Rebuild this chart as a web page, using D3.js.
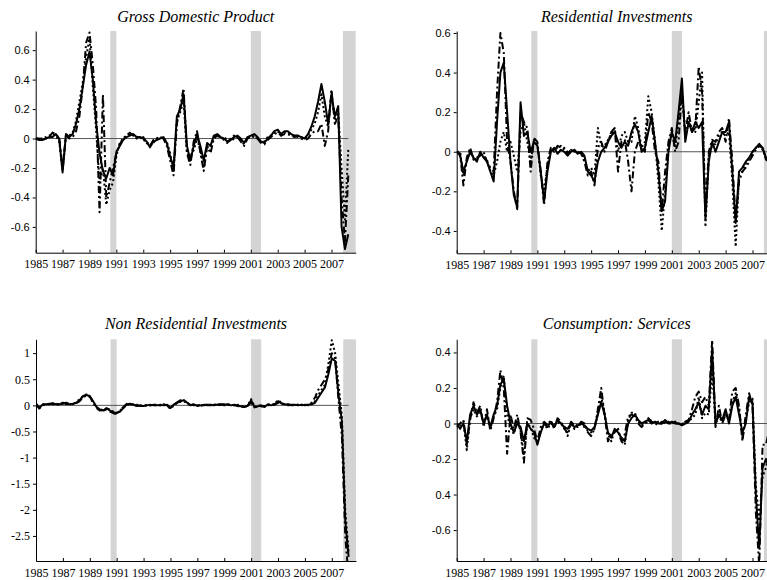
<!DOCTYPE html>
<meta charset="utf-8">
<style>
body { margin: 0; background: #fff; }
.title { font-family: "Liberation Serif", "DejaVu Serif", serif; font-style: italic; font-size: 16px; text-anchor: middle; }
.xaxis text { font-family: "Liberation Serif", serif; font-size: 12px; fill: #000; }
.yaxis text { fill: #000; }
.series { fill: none; stroke: #000; stroke-width: 2px; stroke-linejoin: round; }
</style>
<body>
<script src="https://d3js.org/d3.v7.min.js"></script>
<script>

// quarterly observations, first one is 1985 Q1
var firstYear = 1985;
var xTickYears = [1985, 1987, 1989, 1991, 1993, 1995, 1997, 1999, 2001, 2003, 2005, 2007];
var recessions = [[1990.55, 1991.0], [2001.0, 2001.75], [2007.85, 2008.8]];

// Gross Domestic Product
var gdpSolid = [
  0, -0.01, -0.01, 0,   0.01, 0.01, 0.03, 0,   -0.23, 0.03, 0.01, 0.03,   0.1, 0.2, 0.35, 0.5,
  0.59, 0.4, 0.1, -0.1,   -0.22, -0.27, -0.2, -0.25,   -0.09, -0.05, -0.01, 0.01,   0.02, 0.03, 0.01, 0.01,
  0, -0.02, -0.06, -0.02,   -0.01, 0, 0.01, -0.03,   -0.12, -0.2, 0.15, 0.2,   0.3, -0.05, -0.15, -0.05,
  0.03, -0.05, -0.15, -0.03,   -0.05, 0.02, 0.03, 0.01,   0, -0.02, -0.01, 0.01,   0.02, 0, -0.03, 0.01,
  0.02, 0.03, 0.01, -0.02,   -0.03, 0, 0.02, 0.05,   0.06, 0.03, 0.05, 0.05,   0.03, 0.02, 0.02, 0.01,
  0, 0.03, 0.08, 0.15,   0.25, 0.37, 0.25, 0.1,   0.3, 0.15, 0.22, -0.6,   -0.75, -0.65];
var gdpDashDot = [
  0, 0, -0.01, 0,   0.01, 0.04, 0.03, 0,   -0.2, 0.02, 0, 0.01,   0.05, 0.15, 0.35, 0.65,
  0.72, 0.5, 0.2, -0.5,   0.3, -0.4, -0.3, -0.2,   -0.1, -0.04, 0, 0.02,   0.04, 0.02, 0.01, 0,
  0.01, -0.03, -0.05, -0.01,   0, 0.01, 0, -0.05,   -0.15, -0.25, 0.1, 0.22,   0.34, -0.1, -0.18, -0.02,
  0.05, -0.1, -0.22, -0.05,   -0.1, 0, 0.02, 0.01,   -0.01, -0.03, 0, 0.02,   0.01, -0.02, -0.05, 0,
  0.02, 0.01, 0, -0.03,   -0.04, -0.01, 0.01, 0.03,   0.04, 0.02, 0.03, 0.03,   0.02, 0.01, 0.02, 0,
  -0.01, 0, 0.03, 0.05,   0.05, 0.1, -0.05, 0.05,   0.33, 0.1, 0.15, -0.4,   -0.7, -0.25];
var gdpDotted = [
  0, 0, 0, 0.01,   0.02, 0.03, 0.02, -0.02,   -0.22, 0.02, 0.02, 0.04,   0.12, 0.25, 0.38, 0.55,
  0.68, 0.35, 0.05, -0.3,   -0.2, -0.45, -0.35, -0.3,   -0.12, -0.03, 0, 0.02,   0.03, 0.02, 0, 0.01,
  -0.01, -0.02, -0.05, -0.03,   0, 0.01, 0, -0.02,   -0.1, -0.22, 0.12, 0.18,   0.25, -0.1, -0.12, -0.08,
  0, -0.08, -0.2, -0.06,   -0.06, 0.01, 0.02, 0,   0.01, -0.01, -0.02, 0,   0.01, -0.01, -0.04, 0,
  0.01, 0.02, 0, -0.02,   -0.02, 0.01, 0.02, 0.04,   0.05, 0.02, 0.04, 0.04,   0.02, 0.02, 0.01, 0.01,
  0, 0.02, 0.06, 0.1,   0.18, 0.3, 0.15, 0.08,   0.32, 0.12, 0.18, -0.2,   -0.55, -0.07];

// Residential Investments
var resSolid = [
  0, -0.02, -0.1, -0.05,   0, -0.03, -0.05, 0,   -0.03, -0.05, -0.1, -0.15,   0.15, 0.4, 0.45, 0.2,
  -0.05, -0.22, -0.28, 0.25,   0.08, 0.1, 0, 0.05,   0.03, -0.1, -0.25, -0.1,   0, 0.02, -0.01, 0.01,
  0, -0.02, 0, 0.01,   -0.01, 0, -0.02, -0.1,   -0.12, -0.15, -0.05, 0,   0.02, 0.05, 0.08, 0.1,
  0.05, 0.02, 0.05, 0.03,   0.1, 0.14, 0.1, 0,   0.02, 0.1, 0.18, 0.05,   -0.1, -0.3, -0.25, 0,
  0.1, 0.05, 0.2, 0.37,   0.05, 0.15, 0.1, 0.15,   0.12, 0.15, -0.34, -0.05,   0.05, 0, 0.05, 0.1,
  0.1, 0.15, -0.1, -0.36,   -0.1, -0.08, -0.05, -0.03,   0, 0.02, 0.04, 0.02,   -0.03, -0.04];
var resDashDot = [
  0, -0.01, -0.17, -0.03,   0.02, -0.04, -0.03, -0.02,   0, -0.05, -0.08, -0.1,   0.3, 0.6, 0.5, 0.05,
  -0.05, -0.2, -0.29, 0.2,   0.15, 0.12, -0.1, 0.07,   0.05, -0.1, -0.27, -0.05,   0.02, 0, 0.03, 0.02,
  0.02, -0.01, 0.01, 0,   0, -0.01, -0.05, -0.12,   -0.1, -0.17, 0.02, 0.05,   0, 0.05, 0.1, 0.12,
  -0.1, 0.05, 0.06, -0.05,   -0.2, 0, 0.05, 0.02,   0, 0.2, 0.15, 0,   -0.05, -0.3, -0.1, 0.05,
  0.12, 0, 0.05, 0.3,   0.1, 0.2, 0.1, 0.12,   0.43, 0.3, -0.3, 0,   0.06, 0.05, 0.1, 0.12,
  0.05, 0.17, -0.05, -0.35,   -0.15, -0.1, -0.08, -0.05,   -0.02, 0.01, 0.03, 0.02,   -0.04, -0.05];
var resDotted = [
  0, 0, -0.12, -0.05,   0.01, -0.03, -0.04, -0.01,   -0.02, -0.04, -0.1, -0.12,   -0.05, 0.05, 0.1, 0,
  0.05, -0.02, -0.1, 0.1,   0.15, 0.05, -0.05, 0.06,   0.04, -0.12, -0.2, -0.07,   0.01, 0.01, 0.02, 0.03,
  0.01, 0, 0.01, 0,   0, -0.01, -0.03, -0.1,   -0.08, -0.12, 0.12, 0.03,   0.03, 0.06, 0.09, 0.12,
  0, 0.08, 0.1, 0.05,   0.05, 0.18, 0.12, 0.02,   0.05, 0.28, 0.2, 0.05,   -0.15, -0.4, -0.2, 0.03,
  0.1, 0.02, 0.15, 0.3,   0.08, 0.15, 0.12, 0.1,   0.25, 0.4, -0.38, -0.02,   0.03, 0.04, 0.08, 0.1,
  0.08, 0.1, -0.15, -0.48,   -0.12, -0.1, -0.06, -0.04,   0, 0.02, 0.03, 0.01,   -0.03, -0.05];

// Non Residential Investments
var nonresSolid = [
  0.03, -0.05, 0.02, 0.02,   0.03, 0.03, 0.02, 0.02,   0.05, 0.03, 0.02, 0.03,   0.05, 0.1, 0.18, 0.2,
  0.18, 0.08, -0.03, -0.08,   -0.1, -0.05, -0.1, -0.13,   -0.15, -0.12, -0.05, 0.02,   0.03, 0.01, 0, -0.01,
  -0.01, 0, 0.01, 0,   0, 0.01, 0, 0.01,   -0.05, 0.02, 0.05, 0.08,   0.1, 0.05, 0, 0.02,
  -0.01, 0, 0.01, 0,   0, 0.01, 0.01, 0.02,   0.01, 0.02, 0, 0.01,   0, -0.02, -0.03, -0.01,
  0.1, -0.03, -0.02, 0,   -0.03, 0.02, 0, 0.02,   0.08, 0.04, 0.02, 0.01,   0.01, 0.01, 0, 0.01,
  0, 0.01, 0.02, 0.05,   0.15, 0.25, 0.35, 0.6,   0.9, 0.85, 0.2, -0.3,   -2.2, -2.9];
var nonresDashDot = [
  0.02, -0.06, 0, 0.03,   0.02, 0.04, 0.03, 0.01,   0.03, 0.05, 0.03, 0.02,   0.04, 0.08, 0.15, 0.19,
  0.17, 0.05, -0.05, -0.1,   -0.08, -0.07, -0.12, -0.15,   -0.17, -0.1, -0.03, 0.03,   0.02, 0, -0.01, 0,
  0, -0.01, 0, 0.01,   0.01, 0, 0.01, 0,   -0.07, 0, 0.06, 0.1,   0.08, 0.03, 0.01, 0,
  0, 0.01, 0, 0.01,   0.01, 0, 0.02, 0.01,   0.02, 0.01, 0.01, 0,   -0.01, -0.03, -0.02, 0,
  0.05, -0.04, 0, -0.02,   -0.02, 0.01, 0.02, 0.01,   0.05, 0.03, 0.01, 0.02,   0, 0.01, 0.01, 0,
  0.01, 0, 0.05, 0.15,   0.3, 0.4, 0.5, 0.7,   1.0, 0.9, 0.1, -0.6,   -2.5, -3.3];
var nonresDotted = [
  0.03, -0.04, 0.01, 0.02,   0.02, 0.02, 0.03, 0.02,   0.04, 0.02, 0.03, 0.02,   0.06, 0.12, 0.17, 0.21,
  0.16, 0.06, -0.04, -0.06,   -0.12, -0.06, -0.08, -0.12,   -0.14, -0.1, -0.04, 0.01,   0.02, 0.02, 0.01, 0,
  -0.02, 0.01, 0, 0.01,   0, 0, 0.02, 0,   -0.04, 0.01, 0.04, 0.07,   0.09, 0.04, 0.02, 0.01,
  0, -0.01, 0.01, 0.01,   0.01, 0.02, 0, 0.01,   0, 0.01, 0.02, 0,   0.01, -0.01, -0.04, 0,
  0.12, -0.02, -0.03, 0.01,   -0.02, 0, 0.01, 0.03,   0.1, 0.05, 0.02, 0,   0.01, 0, 0.01, 0.01,
  0, 0.02, 0.03, 0.08,   0.2, 0.3, 0.4, 0.8,   1.25, 1.0, 0.4, -0.2,   -2.0, -2.8];

// Consumption: Services
var consSolid = [
  0, -0.03, 0, -0.1,   0.05, 0.1, 0.05, 0.08,   0, 0.05, -0.02, 0.05,   0.1, 0.22, 0.25, 0.1,
  0, -0.05, 0, -0.02,   -0.1, 0, -0.03, -0.05,   -0.12, -0.05, 0, -0.02,   0.01, -0.02, 0.02, 0,
  -0.02, -0.03, 0, -0.02,   -0.01, 0, -0.01, -0.03,   -0.04, -0.02, 0.05, 0.12,   0.05, -0.05, -0.08, -0.03,
  -0.05, -0.08, -0.1, 0,   0.03, 0.05, 0.02, 0,   0.01, 0.02, 0, 0.01,   0, 0, 0.02, 0,
  0.01, 0, 0, -0.01,   0, 0.01, 0.05, 0.08,   0.12, 0.05, 0.1, 0.08,   0.42, 0, 0.05, 0.02,
  0.08, 0, 0.1, 0.15,   0.05, -0.05, 0, 0.15,   0.12, -0.4, -0.7, -0.25,   -0.2, -0.25];
var consDashDot = [
  -0.02, 0, 0.02, -0.12,   0.02, 0.12, 0.06, 0.1,   -0.02, 0.08, -0.04, 0.03,   0.12, 0.3, 0.2, -0.17,
  0.05, -0.03, 0.05, -0.05,   -0.22, 0.03, 0.02, -0.03,   -0.1, -0.02, 0.01, -0.01,   0.02, -0.03, 0.03, 0.01,
  -0.03, -0.05, 0.01, -0.01,   -0.02, 0.01, 0, -0.05,   -0.07, -0.03, 0.08, 0.2,   0.05, -0.1, -0.06, -0.05,
  -0.03, -0.1, -0.06, 0.04,   0.05, 0.04, 0, -0.02,   0, 0.03, 0.01, 0,   -0.01, 0.01, 0, 0.01,
  0, 0.01, -0.01, 0,   0.01, 0.02, 0.08, 0.15,   0.18, 0.12, 0.15, 0.1,   0.47, -0.02, 0.1, 0,
  0.05, 0.02, 0.18, 0.2,   0.1, -0.1, 0.05, 0.17,   0.1, -0.5, -0.8, -0.12,   -0.12, -0.03];
var consDotted = [
  -0.01, -0.02, 0.01, -0.15,   0.03, 0.08, 0.04, 0.06,   0.01, 0.04, -0.03, 0.04,   0.08, 0.2, 0.27, 0.05,
  -0.02, -0.06, 0.02, -0.04,   -0.18, 0, -0.02, -0.08,   -0.1, -0.04, 0, -0.03,   0, -0.01, 0.01, -0.01,
  -0.01, -0.07, 0, -0.03,   0, -0.01, -0.02, -0.04,   -0.05, -0.03, 0.06, 0.15,   0.06, -0.06, -0.1, -0.04,
  -0.04, -0.1, -0.12, 0.02,   0.06, 0.06, 0.01, -0.01,   0, 0.01, 0.02, 0,   0.01, 0, 0.01, 0,
  0, 0.01, 0, 0,   0, 0.01, 0.03, 0.05,   0.15, 0.03, 0.06, 0.05,   0.3, 0, 0.04, 0.01,
  0.06, 0.01, 0.12, 0.17,   0.08, -0.08, 0.02, 0.12,   0.14, -0.35, -0.55, -0.3,   -0.25, -0.15];

// y tick values and the labels printed next to them
var gdpTicks = [-0.6, -0.4, -0.2, 0, 0.2, 0.4, 0.6];
var gdpTickLabels = ["-0.6", "-0.4", "-0.2", "0", "0.2", "0.4", "0.6"];
var resTicks = [-0.4, -0.2, 0, 0.2, 0.4, 0.6];
var resTickLabels = ["-0.4", "-0.2", "0", "0.2", "0.4", "0.6"];
var nonresTicks = [-2.5, -2, -1.5, -1, -0.5, 0, 0.5, 1];
var nonresTickLabels = ["-2.5", "-2", "-1.5", "-1", "-0.5", "0", "0.5", "1"];
var consTicks = [-0.6, -0.4, -0.2, 0, 0.2, 0.4];
var consTickLabels = ["-0.6", "0.4", "-0.2", "0", "0.2", "0.4"];

var panels = [
  {title: "Gross Domestic Product", series: [gdpDotted, gdpDashDot, gdpSolid],
   yDomain: [-0.775, 0.73], ticks: gdpTicks, labels: gdpTickLabels,
   left: 35.7, top: 31, bottom: 252.7, titleY: 21.5, yFont: "Liberation Sans", yFontSize: 11},
  {title: "Residential Investments", series: [resDotted, resDashDot, resSolid],
   yDomain: [-0.513, 0.61], ticks: resTicks, labels: resTickLabels,
   left: 456.7, top: 31, bottom: 253.3, titleY: 21.5, yFont: "Liberation Sans", yFontSize: 11},
  {title: "Non Residential Investments", series: [nonresDotted, nonresDashDot, nonresSolid],
   yDomain: [-2.98, 1.265], ticks: nonresTicks, labels: nonresTickLabels,
   left: 36, top: 339.3, bottom: 561, titleY: 329, yFont: "Liberation Serif", yFontSize: 12},
  {title: "Consumption: Services", series: [consDotted, consDashDot, consSolid],
   yDomain: [-0.774, 0.474], ticks: consTicks, labels: consTickLabels,
   left: 456.7, top: 339.3, bottom: 561, titleY: 329, yFont: "Liberation Sans", yFontSize: 11}
];

var dashes = ["2,2.6", "7,3,2,3", null];
var plotWidth = 320;
var lastDate = firstYear + (gdpSolid.length - 1) / 4;

var svg = d3.select("body").append("svg")
    .attr("width", 767)
    .attr("height", 580)
    .style("display", "block");

svg.append("rect").attr("width", 767).attr("height", 580).attr("fill", "#fff");

panels.forEach(function(p, k) {
  var x = d3.scaleLinear().domain([1985, 2008.8]).range([p.left, p.left + plotWidth]);
  var y = d3.scaleLinear().domain(p.yDomain).range([p.bottom, p.top]);
  var g = svg.append("g");

  var clipId = "clip" + k;
  svg.append("clipPath").attr("id", clipId)
    .append("rect")
      .attr("x", p.left).attr("y", p.top)
      .attr("width", plotWidth).attr("height", p.bottom - p.top);

  // recession bands
  g.selectAll(".band")
      .data(recessions)
    .enter().append("rect")
      .attr("x", function(d) { return x(d[0]); })
      .attr("width", function(d) { return x(d[1]) - x(d[0]); })
      .attr("y", p.top)
      .attr("height", p.bottom - p.top)
      .attr("fill", "#d4d4d4");

  // zero line
  g.append("line")
      .attr("x1", x(1985)).attr("x2", x(lastDate))
      .attr("y1", y(0)).attr("y2", y(0))
      .attr("stroke", "#555").attr("stroke-width", 1);

  var line = d3.line()
      .x(function(d, i) { return x(firstYear + i / 4); })
      .y(function(d) { return y(d); });

  var lines = g.append("g").attr("clip-path", "url(#" + clipId + ")");
  p.series.forEach(function(s, j) {
    lines.append("path")
        .datum(s)
        .attr("class", "series")
        .attr("stroke-dasharray", dashes[j])
        .attr("d", line);
  });

  // axes
  g.append("g")
      .attr("class", "xaxis")
      .attr("transform", "translate(0," + p.bottom + ")")
      .call(d3.axisBottom(x).tickValues(xTickYears).tickFormat(d3.format("d"))
              .tickSizeInner(-3).tickSizeOuter(0).tickPadding(7))
      .call(function(a) { a.selectAll("line, path").attr("stroke", "#000"); });

  g.append("g")
      .attr("class", "yaxis")
      .attr("transform", "translate(" + p.left + ",0)")
      .call(d3.axisLeft(y).tickValues(p.ticks)
              .tickFormat(function(d, i) { return p.labels[i]; })
              .tickSizeInner(3).tickSizeOuter(0).tickPadding(3))
      .call(function(a) {
        a.selectAll("line, path").attr("stroke", "#000");
        a.selectAll("text").style("font-family", p.yFont).style("font-size", p.yFontSize + "px");
      });

  g.append("text")
      .attr("class", "title")
      .attr("x", p.left + plotWidth / 2)
      .attr("y", p.titleY)
      .text(p.title);
});

</script>
</body>
